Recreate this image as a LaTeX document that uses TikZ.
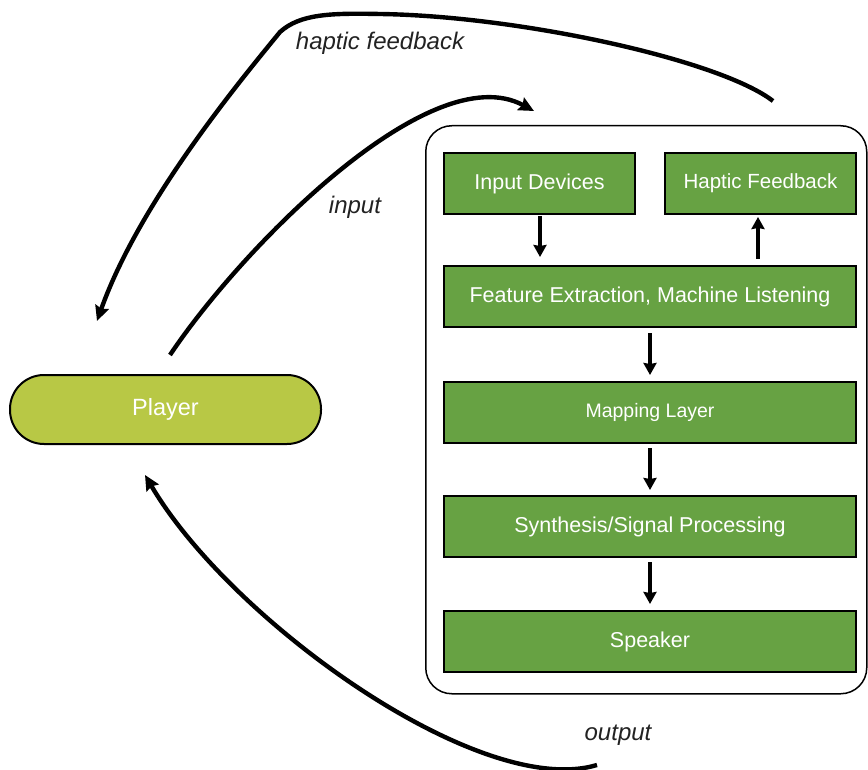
\documentclass[tikz,border=0pt]{standalone}
\usepackage{fontspec}
\setmainfont{Liberation Sans}
\usetikzlibrary{arrows.meta}
\definecolor{boxgreen}{HTML}{67A243}
\definecolor{playergreen}{HTML}{B8C845}
\definecolor{labelgray}{HTML}{222222}
\tikzset{
  stage/.style={draw=black, line width=2pt, fill=boxgreen, text=white,
    inner sep=0pt, anchor=north west, font=\fontsize{21.5}{24}\selectfont},
  flow/.style={line width=4pt, -{Stealth[length=12pt,width=13pt,inset=1pt]}},
  loop/.style={line width=4.4pt, -{Stealth[length=15pt,width=14pt,inset=2pt]}},
  tag/.style={text=labelgray, font=\fontsize{24}{28}\selectfont\itshape}
}
\begin{document}
\begin{tikzpicture}[x=1pt,y=-1pt]
  \useasboundingbox (0,0) rectangle (868,770);

  % system container
  \node[draw=black, line width=1.5pt, rounded corners=26pt, anchor=north west,
        minimum width=441pt, minimum height=568pt, inner sep=0pt] (sys) at (425,125) {};

  % processing stages
  \node[stage, minimum width=191pt, minimum height=61pt] (inp) at (443,152) {Input Devices};
  \node[stage, minimum width=191pt, minimum height=61pt, font=\fontsize{20.5}{24}\selectfont] (hap) at (664,152) {Haptic Feedback};
  \node[stage, minimum width=412pt, minimum height=61pt] (feat) at (443,265) {Feature Extraction, Machine Listening};
  \node[stage, minimum width=412pt, minimum height=61pt, font=\fontsize{19.5}{24}\selectfont] (map) at (443,381) {Mapping Layer};
  \node[stage, minimum width=412pt, minimum height=61pt] (syn) at (443,495) {Synthesis/Signal Processing};
  \node[stage, minimum width=412pt, minimum height=61pt] (spk) at (443,610) {Speaker};

  % the performer
  \node[draw=black, line width=2pt, fill=playergreen, text=white, rounded corners=34pt,
        minimum width=311pt, minimum height=69pt, inner sep=0pt,
        font=\fontsize{23.5}{26}\selectfont] (player) at (165.5,409.5) {Player};

  % internal signal flow
  \coordinate (a1) at (540,216); \coordinate (a2) at (540,257);
  \draw[flow] (a1) -- (a2);
  \coordinate (b1) at (758,259); \coordinate (b2) at (758,217);
  \draw[flow] (b1) -- (b2);
  \coordinate (c1) at (650,333); \coordinate (c2) at (650,375);
  \draw[flow] (c1) -- (c2);
  \coordinate (d1) at (650,448); \coordinate (d2) at (650,490);
  \draw[flow] (d1) -- (d2);
  \coordinate (e1) at (650,562); \coordinate (e2) at (650,604);
  \draw[flow] (e1) -- (e2);

  % feedback loops between player and system
  \coordinate (hfStart) at (773,101);
  \coordinate (hfEnd) at (97,321);
  \draw[loop] (hfStart) .. controls (720,60) and (520,16) .. (380,14)
                        .. controls (330,13) and (300,14) .. (280,32)
                        .. controls (245,75) and (140,200) .. (hfEnd);

  \coordinate (inStart) at (170,355);
  \coordinate (inEnd) at (534,111);
  \draw[loop] (inStart) .. controls (240,250) and (430,55) .. (inEnd);

  \coordinate (outStart) at (597,765);
  \coordinate (outEnd) at (145,475);
  \draw[loop] (outStart) .. controls (480,800) and (230,620) .. (outEnd);

  % loop labels
  \node[tag] (lhf) at (380,43) {haptic feedback};
  \node[tag] (lin) at (355,207) {input};
  \node[tag] (lout) at (618,735) {output};
\end{tikzpicture}
\end{document}
